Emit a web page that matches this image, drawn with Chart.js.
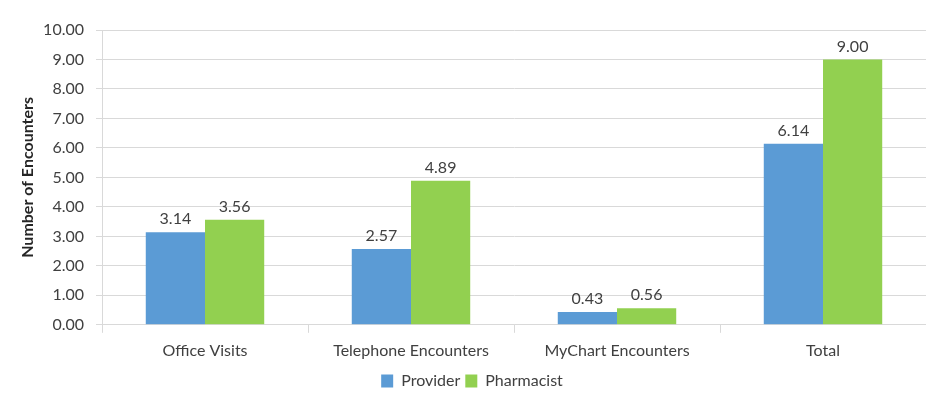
<!DOCTYPE html>
<html>
<head>
<meta charset="utf-8">
<script src="https://cdn.jsdelivr.net/npm/chart.js@4.4.0/dist/chart.umd.min.js"></script>
<style>
  html, body { margin: 0; padding: 0; background: #fff; }
  #wrap { width: 926px; height: 394px; position: relative; }
</style>
</head>
<body>
<div id="wrap"><canvas id="myChart"></canvas></div>
<script>
var categories = ["Office Visits", "Telephone Encounters", "MyChart Encounters", "Total"];
var provider = [3.14, 2.57, 0.43, 6.14];
var pharmacist = [3.56, 4.89, 0.56, 9.00];
var yTicks = [0, 1, 2, 3, 4, 5, 6, 7, 8, 9, 10];

var fontName = "Lato, 'Open Sans', sans-serif";

// values above the bars
var barLabels = {
  id: 'barLabels',
  afterDatasetsDraw: function(chart) {
    var ctx = chart.ctx;
    ctx.save();
    ctx.font = "16px " + fontName;
    ctx.fillStyle = "#404040";
    ctx.textAlign = "center";
    ctx.textBaseline = "bottom";
    chart.data.datasets.forEach(function(ds, i) {
      chart.getDatasetMeta(i).data.forEach(function(bar, j) {
        ctx.fillText(ds.data[j].toFixed(2), bar.x, bar.y - 5);
      });
    });
    ctx.restore();
  }
};

new Chart("myChart", {
  type: "bar",
  data: {
    labels: categories,
    datasets: [{
      label: "Provider",
      data: provider,
      backgroundColor: "#5B9BD5",
      barPercentage: 1,
      categoryPercentage: 0.575
    }, {
      label: "Pharmacist",
      data: pharmacist,
      backgroundColor: "#92D050",
      barPercentage: 1,
      categoryPercentage: 0.575
    }]
  },
  plugins: [barLabels],
  options: {
    responsive: true,
    maintainAspectRatio: false,
    animation: false,
    layout: { padding: { top: 30, left: 18, right: 0, bottom: -5 } },
    plugins: {
      legend: {
        position: "bottom",
        labels: {
          boxWidth: 12,
          boxHeight: 13,
          padding: 5,
          color: "#404040",
          font: { family: fontName, size: 16 }
        }
      },
      tooltip: { enabled: false }
    },
    scales: {
      x: {
        grid: { display: true, drawOnChartArea: false, offset: true, color: "#D9D9D9", tickLength: 8 },
        border: { color: "#D9D9D9" },
        ticks: { color: "#404040", padding: 8, font: { family: fontName, size: 16 } }
      },
      y: {
        min: 0,
        max: 10,
        afterBuildTicks: function(scale) {
          scale.ticks = yTicks.map(function(v) { return { value: v }; });
        },
        afterFit: function(scale) { scale.width = 84; },
        grid: { color: "#D9D9D9", tickLength: 6 },
        border: { color: "#D9D9D9" },
        ticks: {
          color: "#404040",
          padding: 12,
          font: { family: fontName, size: 16 },
          callback: function(v) { return Number(v).toFixed(2); }
        },
        title: {
          display: true,
          text: "Number of Encounters",
          color: "#262626",
          padding: 0,
          font: { family: fontName, size: 16, weight: "bold" }
        }
      }
    }
  }
});
</script>
</body>
</html>
